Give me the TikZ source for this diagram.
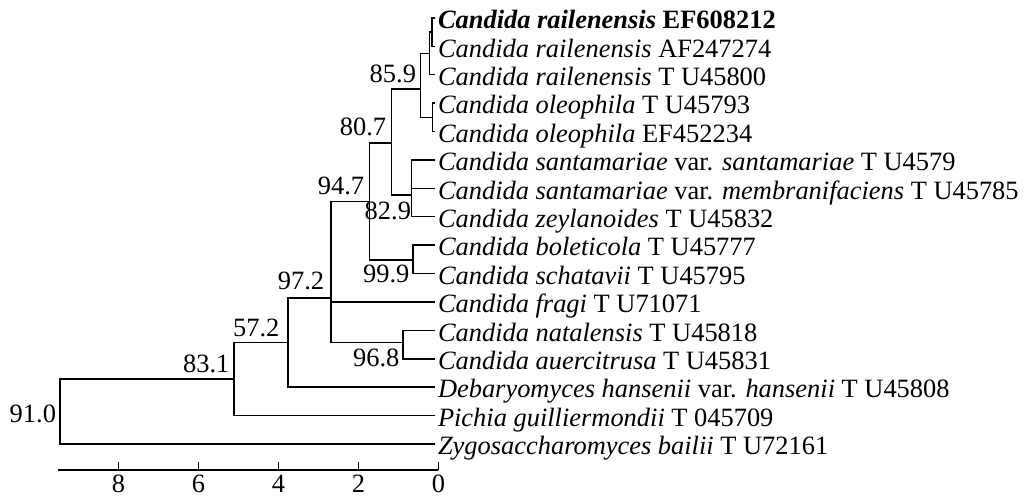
\documentclass[tikz,border=0pt]{standalone}
\usepackage{fontspec}
\setmainfont{Liberation Serif}
\begin{document}
\begin{tikzpicture}[font=\fontsize{18.8}{20}\selectfont, line width=1pt,
  leaf/.style={anchor=base west, inner sep=0pt},
  boot/.style={anchor=base east, inner sep=0pt}]
\useasboundingbox (-10.9625,-11.975) rectangle (14.6375,0.45);
% tips of the leaves
\coordinate (t1) at (-0.08,0);
\coordinate (t2) at (-0.08,-0.71);
\coordinate (t3) at (-0.08,-1.42);
\coordinate (t4) at (-0.08,-2.13);
\coordinate (t5) at (-0.08,-2.84);
\coordinate (t6) at (-0.08,-3.55);
\coordinate (t7) at (-0.08,-4.26);
\coordinate (t8) at (-0.08,-4.97);
\coordinate (t9) at (-0.08,-5.68);
\coordinate (t10) at (-0.08,-6.39);
\coordinate (t11) at (-0.08,-7.10);
\coordinate (t12) at (-0.08,-7.81);
\coordinate (t13) at (-0.08,-8.52);
\coordinate (t14) at (-0.08,-9.23);
\coordinate (t15) at (-0.08,-9.94);
\coordinate (t16) at (-0.08,-10.65);
% inner nodes
\coordinate (rA) at (-0.16,-0.355);
\coordinate (rB) at (-0.225,-0.8875);
\coordinate (ol) at (-0.15,-2.485);
\coordinate (n859) at (-0.45,-1.78);
\coordinate (n829) at (-0.67,-4.425);
\coordinate (n807) at (-1.18,-3.125);
\coordinate (n999) at (-0.64,-6.05);
\coordinate (n947) at (-1.73,-4.59);
\coordinate (n968) at (-0.89,-8.12);
\coordinate (n972) at (-2.69,-7.0);
\coordinate (n572) at (-3.76,-8.12);
\coordinate (n831) at (-5.11,-9.03);
\coordinate (root) at (-9.46,-9.84);
% branches
\draw (t1) -| (rA) |- (t2);
\draw (rA) -| (rB) |- (t3);
\draw (t4) -| (ol) |- (t5);
\draw (rB) -| (n859) |- (ol);
\draw (t6) -| (n829) |- (t8);
\draw (n829) |- (t7);
\draw (n859) -| (n807) |- (n829);
\draw (t9) -| (n999) |- (t10);
\draw (n807) -| (n947) |- (n999);
\draw (t12) -| (n968) |- (t13);
\draw (n947) -| (n972) |- (n968);
\draw (n972) |- (t11);
\draw (n972) -| (n572) |- (t14);
\draw (n572) -| (n831) |- (t15);
\draw (n831) -| (root) |- (t16);
% species
\node[leaf] (s1) at (-0.03,-0.27) {\textbf{\textit{Candida railenensis} EF608212}};
\node[leaf] (s2) at (-0.03,-0.98) {\textit{Candida railenensis} AF247274};
\node[leaf] (s3) at (-0.03,-1.69) {\textit{Candida railenensis} T U45800};
\node[leaf] (s4) at (-0.03,-2.40) {\textit{Candida oleophila} T U45793};
\node[leaf] (s5) at (-0.03,-3.11) {\textit{Candida oleophila} EF452234};
\node[leaf] (s6) at (-0.03,-3.82) {\textit{Candida santamariae} var. \textit{santamariae} T U4579};
\node[leaf] (s7) at (-0.03,-4.53) {\textit{Candida santamariae} var. \textit{membranifaciens} T U45785};
\node[leaf] (s8) at (-0.03,-5.24) {\textit{Candida zeylanoides} T U45832};
\node[leaf] (s9) at (-0.03,-5.95) {\textit{Candida boleticola} T U45777};
\node[leaf] (s10) at (-0.03,-6.66) {\textit{Candida schatavii} T U45795};
\node[leaf] (s11) at (-0.03,-7.37) {\textit{Candida fragi} T U71071};
\node[leaf] (s12) at (-0.03,-8.08) {\textit{Candida natalensis} T U45818};
\node[leaf] (s13) at (-0.03,-8.79) {\textit{Candida auercitrusa} T U45831};
\node[leaf] (s14) at (-0.03,-9.50) {\textit{Debaryomyces hansenii} var. \textit{hansenii} T U45808};
\node[leaf] (s15) at (-0.03,-10.21) {\textit{Pichia guilliermondii} T 045709};
\node[leaf] (s16) at (-0.03,-10.92) {\textit{Zygosaccharomyces bailii} T U72161};
% bootstrap values
\node[boot] (b859) at (-0.545,-1.625) {85.9};
\node[boot] (b807) at (-1.29,-2.95) {80.7};
\node[boot] (b947) at (-1.84,-4.425) {94.7};
\node[boot] (b829) at (-0.67,-5.05) {82.9};
\node[boot] (b999) at (-0.71,-6.625) {99.9};
\node[boot] (b968) at (-0.96,-8.725) {96.8};
\node[boot] (b972) at (-2.84,-6.8) {97.2};
\node[boot] (b572) at (-3.96,-7.97) {57.2};
\node[boot] (b831) at (-5.21,-8.87) {83.1};
\node[boot] (b910) at (-9.545,-10.125) {91.0};
% scale
\coordinate (ax0) at (0,-11.3);
\coordinate (ax1) at (-9.51,-11.3);
\draw (ax1) -- (ax0);
\foreach \d in {0,2,4,6,8} {
  \draw (-\d,-11.3) -- (-\d,-11.09);
  \node[anchor=base] (k\d) at (-\d,-11.87) {\d};
}
\end{tikzpicture}
\end{document}
